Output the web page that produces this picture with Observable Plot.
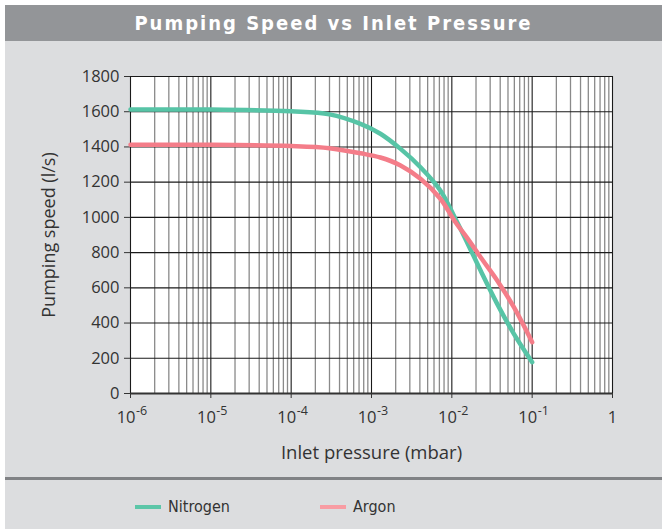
<!DOCTYPE html>
<html><head><meta charset="utf-8">
<script src="https://cdn.jsdelivr.net/npm/d3@7"></script>
<script src="https://cdn.jsdelivr.net/npm/@observablehq/plot@0.6"></script>
<style>
body{margin:0;background:#fff;}
#wrap{position:absolute;left:5px;top:5px;width:657px;height:524px;background:#dcdddf;font-family:"Open Sans",sans-serif;overflow:hidden;}
#title{height:36px;background:#939598;color:#fff;font-family:"DejaVu Sans Condensed","DejaVu Sans",sans-serif;font-weight:bold;font-size:20px;text-align:center;line-height:36px;letter-spacing:2px;}
#chart{height:436px;}
#chart svg{display:block;}
#sep{height:3px;background:#808285;}
#legend{position:relative;height:49px;color:#333;font-family:"DejaVu Sans Condensed","DejaVu Sans",sans-serif;font-size:16px;}
.sw{position:absolute;top:25px;width:26px;height:4px;}
.lb{position:absolute;top:15px;line-height:24px;}
</style></head>
<body>
<div id="wrap">
  <div id="title">Pumping Speed vs Inlet Pressure</div>
  <div id="chart"></div>
  <div id="sep"></div>
  <div id="legend">
    <div class="sw" style="left:130px;background:#5cc6a8"></div><div class="lb" style="left:163px">Nitrogen</div>
    <div class="sw" style="left:315px;background:#f89ca3"></div><div class="lb" style="left:348px">Argon</div>
  </div>
</div>
<script>
const pressure = [1e-6, 1e-5, 1e-4, 3e-4, 7.3e-4, 1.29e-3, 2.3e-3, 4.07e-3, 7.2e-3, 1.1e-2, 1.55e-2, 2.28e-2, 3.67e-2, 5.92e-2, 1e-1];
const nitrogen = [1612, 1612, 1602, 1585, 1531, 1475, 1389, 1285, 1153, 995, 858, 698, 509, 339, 178];
const argon    = [1412, 1412, 1405, 1393, 1364, 1340, 1295, 1219, 1106, 975, 884, 774, 642, 490, 291];
const decades = [1e-6, 1e-5, 1e-4, 1e-3, 1e-2, 1e-1, 1];
const tickBase = ["10", "10", "10", "10", "10", "10", "1"];
const tickExp = ["-6", "-5", "-4", "-3", "-2", "-1", ""];
const yTicks = [0, 200, 400, 600, 800, 1000, 1200, 1400, 1600, 1800];
const minorMult = [2, 3, 4, 5, 6, 7, 8, 9];

const minor = decades.slice(0, -1).flatMap(d => minorMult.map(k => k * d));
const data = pressure.map((p, i) => ({p, n: nitrogen[i], a: argon[i]}));
const labels = decades.map((d, i) => ({d, t: tickBase[i], e: tickExp[i]}));
const powLabels = labels.filter(l => l.e !== "");
const unitLabels = labels.filter(l => l.e === "");

const chart = Plot.plot({
  width: 657, height: 436,
  marginLeft: 125, marginRight: 50, marginTop: 35, marginBottom: 84,
  style: {background: "transparent", fontFamily: "'Open Sans', sans-serif", fontSize: "16.5px", color: "#333"},
  x: {type: "log", domain: [1e-6, 1]},
  y: {domain: [0, 1800]},
  marks: [
    Plot.frame({fill: "white", stroke: null}),
    Plot.ruleX(minor, {stroke: "#8a8a8a", strokeWidth: 1.3}),
    Plot.ruleX(decades, {stroke: "#1a1a1a", strokeWidth: 1.1}),
    Plot.ruleY(yTicks, {stroke: "#1a1a1a", strokeWidth: 1.1}),
    Plot.ruleY([0], {stroke: "#333", strokeWidth: 2.2}),
    Plot.axisY({ticks: yTicks, tickSize: 6, tickPadding: 5, tickFormat: d3.format("d"), label: null}),
    Plot.axisY({ticks: [], label: "Pumping speed (l/s)", labelAnchor: "center", labelOffset: 88, labelArrow: "none", fontSize: 18}),
    Plot.axisX({ticks: decades, tickSize: 5, tickFormat: () => "", label: null}),
    Plot.axisX({ticks: [], label: "Inlet pressure (mbar)", labelAnchor: "center", labelOffset: 65, labelArrow: "none", fontSize: 18.5}),
    Plot.text(powLabels, {x: "d", text: "t", frameAnchor: "bottom", dy: 29, lineAnchor: "bottom", textAnchor: "end", dx: 5, fontSize: 16.5, fill: "#333"}),
    Plot.text(powLabels, {x: "d", text: "e", frameAnchor: "bottom", dy: 21, lineAnchor: "bottom", textAnchor: "start", dx: 5.5, fontSize: 12.5, fill: "#333"}),
    Plot.text(unitLabels, {x: "d", text: "t", frameAnchor: "bottom", dy: 29, lineAnchor: "bottom", textAnchor: "middle", fontSize: 16.5, fill: "#333"}),
    Plot.line(data, {x: "p", y: "n", stroke: "#57c4a6", strokeWidth: 4.5, curve: "catmull-rom"}),
    Plot.line(data, {x: "p", y: "a", stroke: "#f47d89", strokeWidth: 4.5, curve: "catmull-rom"})
  ]
});
document.getElementById("chart").append(chart);
</script>
</body></html>
